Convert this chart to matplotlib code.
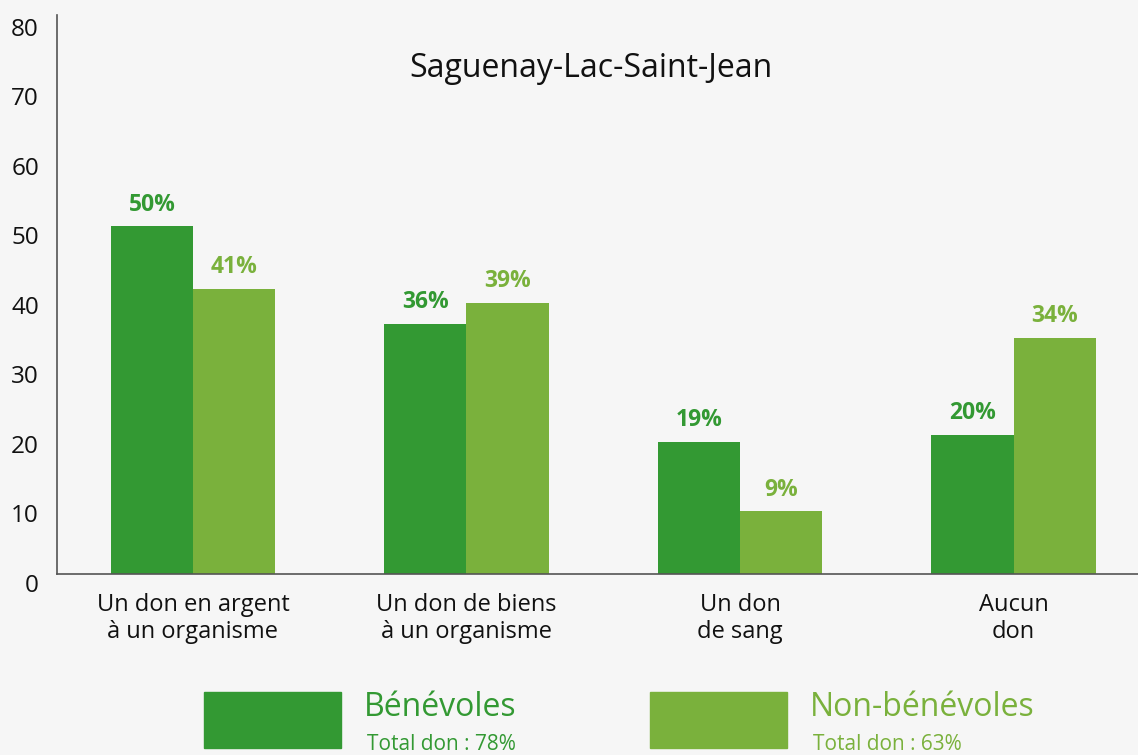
import matplotlib
matplotlib.use("Agg")
import matplotlib.pyplot as plt
from matplotlib.patches import Rectangle
import numpy as np

plt.rcParams['font.family'] = ['Open Sans', 'DejaVu Sans']

categories = ["Un don en argent\nà un organisme", "Un don de biens\nà un organisme",
              "Un don\nde sang", "Aucun\ndon"]
benevoles = [50, 36, 19, 20]
non_benevoles = [41, 39, 9, 34]
series_names = ["Bénévoles", "Non-bénévoles"]
totals = ["Total don : 78%", "Total don : 63%"]
yticks = [0, 10, 20, 30, 40, 50, 60, 70, 80]
title = "Saguenay-Lac-Saint-Jean"

dark = "#339933"
light = "#7AB13C"
bg = "#F6F6F6"

W, H = 1138, 755
fig = plt.figure(figsize=(W/100, H/100), dpi=100, facecolor=bg)
ax = fig.add_axes([57/W, 1-574/H, (1138-57)/W, (574-15)/H], facecolor=bg)

x = np.arange(len(categories))
bw = 0.3
b1 = ax.bar(x - bw/2, benevoles, bw, color=dark)
b2 = ax.bar(x + bw/2, non_benevoles, bw, color=light)

for rects, vals, col in [(b1, benevoles, dark), (b2, non_benevoles, light)]:
    for r, v in zip(rects, vals):
        ax.annotate(f"{v}%", (r.get_x() + r.get_width()/2, v), xytext=(0, 7),
                    textcoords="offset points", ha="center", va="bottom",
                    fontsize=16.5, fontweight="bold", color=col)

ax.set_xlim(-0.497, 3.455)
ax.set_ylim(0, 80.4)
ax.set_yticks(yticks)
ax.set_yticklabels([str(t) for t in yticks], fontsize=17.5, color="#111111")
for lab in ax.get_yticklabels():
    lab.set_va("top")
ax.tick_params(axis="y", length=0, pad=13)
ax.set_xticks(x)
ax.set_xticklabels(categories, fontsize=17, color="#111111", linespacing=1.15)
ax.tick_params(axis="x", length=0, pad=14)

for s in ["top", "right"]:
    ax.spines[s].set_visible(False)
ax.spines["left"].set_color("#555555")
ax.spines["bottom"].set_color("#555555")
ax.spines["left"].set_linewidth(1.2)
ax.spines["bottom"].set_linewidth(1.2)

ax.text(0.494, 0.905, title, transform=ax.transAxes, ha="center", va="center",
        fontsize=23, color="#111111")

# legend
for (x0, col, name, tot) in [(204, dark, series_names[0], totals[0]),
                             (650, light, series_names[1], totals[1])]:
    fig.patches.append(Rectangle((x0/W, 1-748/H), 137/W, 56/H,
                                 transform=fig.transFigure, color=col))
    fig.text((x0+160)/W, 1-708/H, name, fontsize=23, color=col, ha="left", va="center")
    fig.text((x0+163)/W, 1-745/H, tot, fontsize=15, color=col, ha="left", va="center")

fig.savefig("out.png", dpi=100, facecolor=bg)
